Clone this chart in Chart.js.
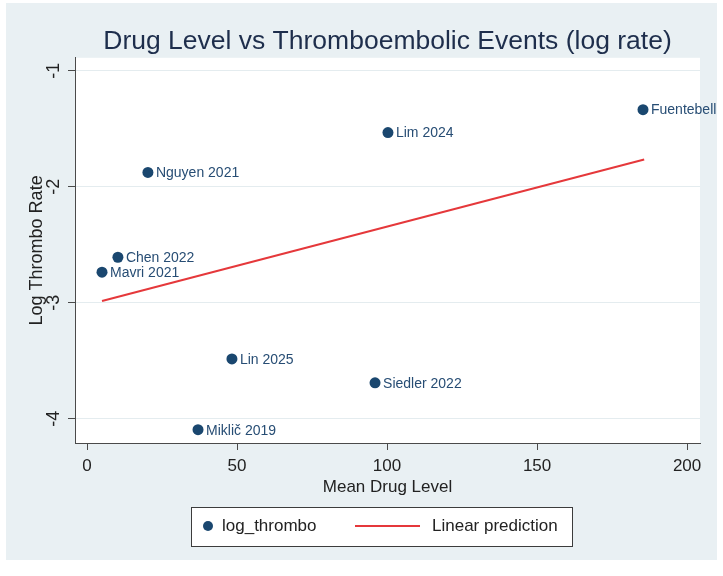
<!DOCTYPE html>
<html><head><meta charset="utf-8">
<script src="https://cdn.jsdelivr.net/npm/chart.js@4/dist/chart.umd.min.js"></script>
<style>html,body{margin:0;padding:0;background:#fff}canvas{display:block}</style>
</head><body>
<canvas id="c" width="723" height="576"></canvas>
<script>
// ---- data ----
const studyNames = ["Fuentebell", "Lim 2024", "Nguyen 2021", "Chen 2022", "Mavri 2021", "Lin 2025", "Siedler 2022", "Miklič 2019"];
const drugLevel = [185.3, 100.3, 20.3, 10.3, 5.0, 48.3, 96.0, 37.0];
const logThrombo = [-1.335, -1.533, -1.877, -2.608, -2.737, -3.485, -3.691, -4.095];
const fitDrugLevel = [5.0, 185.7];
const fitLogThrombo = [-2.985, -1.765];
const xTicks = [0, 50, 100, 150, 200];
const yTicks = [-4, -3, -2, -1];
const seriesNames = ["log_thrombo", "Linear prediction"];
const chartTitle = "Drug Level vs Thromboembolic Events (log rate)";
const xTitle = "Mean Drug Level";
const yTitle = "Log Thrombo Rate";

const FONT = '"Liberation Sans", Arial, sans-serif';
const NAVY = '#1a476f';
const RED = '#e5383b';
const AXIS = '#4a4a4a';
const BG = '#e9f0f3';

Chart.defaults.font.family = FONT;

const backgroundPlugin = {
  id: 'bg',
  beforeDraw(chart) {
    const ctx = chart.ctx, a = chart.chartArea;
    ctx.save();
    ctx.fillStyle = '#ffffff';
    ctx.fillRect(0, 0, chart.width, chart.height);
    ctx.fillStyle = BG;
    ctx.fillRect(6, 3, 711, 557);
    ctx.fillStyle = '#ffffff';
    ctx.fillRect(a.left, a.top, a.right - a.left, a.bottom - a.top);
    ctx.restore();
  }
};

const pointLabelPlugin = {
  id: 'pointLabels',
  afterDatasetsDraw(chart) {
    const meta = chart.getDatasetMeta(0);
    const ctx = chart.ctx;
    ctx.save();
    ctx.font = '14px ' + FONT;
    ctx.fillStyle = '#274d74';
    ctx.textAlign = 'left';
    ctx.textBaseline = 'middle';
    meta.data.forEach((pt, i) => ctx.fillText(studyNames[i], pt.x + 8, pt.y + 1));
    ctx.restore();
  }
};

const legendPlugin = {
  id: 'boxLegend',
  afterDraw(chart) {
    const ctx = chart.ctx;
    const cy = 526;
    ctx.save();
    ctx.fillStyle = '#ffffff';
    ctx.fillRect(191, 507, 381, 39);
    ctx.strokeStyle = '#3c3c3c';
    ctx.lineWidth = 1;
    ctx.strokeRect(191.5, 507.5, 381, 39);
    const ds = chart.data.datasets;
    ctx.fillStyle = ds[0].backgroundColor;
    ctx.beginPath(); ctx.arc(208, cy, 5, 0, Math.PI * 2); ctx.fill();
    ctx.strokeStyle = ds[1].borderColor;
    ctx.lineWidth = 2;
    ctx.beginPath(); ctx.moveTo(355, cy); ctx.lineTo(420, cy); ctx.stroke();
    ctx.fillStyle = '#222222';
    ctx.font = '17px ' + FONT;
    ctx.textAlign = 'left';
    ctx.textBaseline = 'middle';
    ctx.fillText(ds[0].label, 222, cy);
    ctx.fillText(ds[1].label, 432, cy);
    ctx.restore();
  }
};

new Chart(document.getElementById('c'), {
  type: 'scatter',
  data: {
    datasets: [
      {
        label: seriesNames[0],
        data: drugLevel.map((x, i) => ({ x: x, y: logThrombo[i] })),
        backgroundColor: NAVY,
        borderColor: NAVY,
        pointRadius: 5.5,
        pointHoverRadius: 5.5,
        borderWidth: 0
      },
      {
        type: 'line',
        label: seriesNames[1],
        data: fitDrugLevel.map((x, i) => ({ x: x, y: fitLogThrombo[i] })),
        borderColor: RED,
        backgroundColor: RED,
        borderWidth: 2,
        pointRadius: 0,
        fill: false,
        tension: 0
      }
    ]
  },
  options: {
    responsive: false,
    animation: false,
    devicePixelRatio: 1,
    layout: { padding: { top: 0, left: 0, right: 23, bottom: 73 } },
    plugins: {
      legend: { display: false },
      tooltip: { enabled: false },
      title: {
        display: true,
        text: chartTitle,
        fullSize: false,
        color: '#1e2e4c',
        font: { size: 26.5, weight: 'normal', family: FONT },
        padding: { top: 26, bottom: 0 }
      }
    },
    scales: {
      x: {
        type: 'linear',
        min: -4,
        max: 204.3,
        afterBuildTicks: s => { s.ticks = xTicks.map(v => ({ value: v })); },
        afterFit: s => { s.height = 60; },
        ticks: { font: { size: 17 }, color: '#222222', padding: 6, minRotation: 0, maxRotation: 0 },
        grid: { drawOnChartArea: false, drawTicks: true, tickLength: 7, tickColor: AXIS, tickWidth: 1 },
        border: { display: true, color: AXIS, width: 1 },
        title: { display: true, text: xTitle, color: '#222222', font: { size: 17 }, padding: { top: 0, bottom: 5 } }
      },
      y: {
        type: 'linear',
        min: -4.21,
        max: -0.888,
        afterBuildTicks: s => { s.ticks = yTicks.map(v => ({ value: v })); },
        afterFit: s => { s.width = 75; },
        ticks: { font: { size: 18 }, color: '#222222', padding: 6, minRotation: 90, maxRotation: 90, crossAlign: 'center' },
        grid: { color: '#e4ecef', lineWidth: 1, drawTicks: true, tickLength: 7, tickColor: AXIS, tickWidth: 1 },
        border: { display: true, color: AXIS, width: 1 },
        title: { display: true, text: yTitle, color: '#222222', font: { size: 18 }, padding: { top: 26, bottom: 0 } }
      }
    }
  },
  plugins: [backgroundPlugin, pointLabelPlugin, legendPlugin]
});
</script>
</body></html>
